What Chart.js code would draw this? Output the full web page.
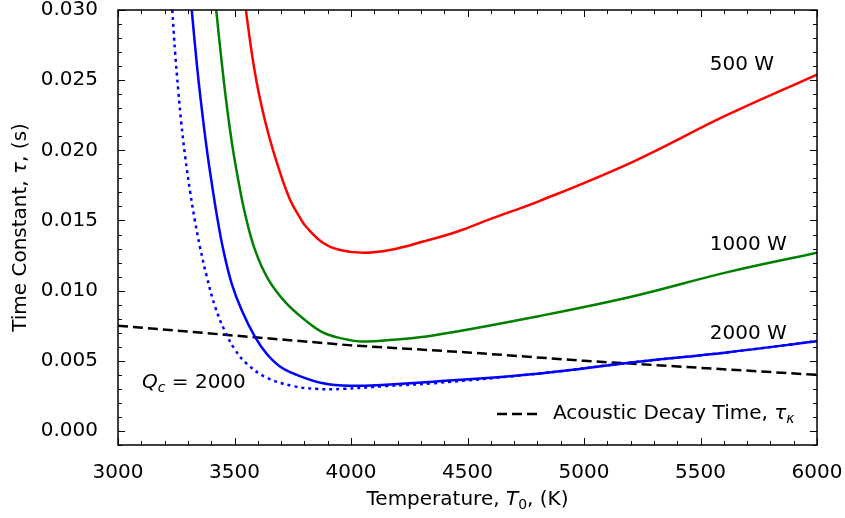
<!DOCTYPE html>
<html>
<head>
<meta charset="utf-8">
<script src="https://cdn.jsdelivr.net/npm/chart.js@4.4.1/dist/chart.umd.min.js"></script>
<style>
  html, body { margin: 0; padding: 0; background: #fff; }
  #myChart { display: block; }
</style>
</head>
<body>
<canvas id="myChart" width="845" height="518"></canvas>
<script>
// values
var T_500 = [3530, 3548, 3581, 3609, 3645, 3688, 3738, 3781, 3810, 3881, 3953, 4053, 4167, 4310, 4454, 4597, 4811, 5212, 5612, 6000];
var tau_500 = [0.0325, 0.0301, 0.0262, 0.0237, 0.0212, 0.0188, 0.0165, 0.0152, 0.0145, 0.0134, 0.0129, 0.0127, 0.0129, 0.0135, 0.0142, 0.0151, 0.0164, 0.0192, 0.0225, 0.0254];

var T_1000 = [3405, 3421, 3445, 3466, 3491, 3517, 3545, 3588, 3645, 3717, 3803, 3881, 3960, 4050, 4180, 4352, 4811, 5212, 5612, 6000];
var tau_1000 = [0.0328, 0.0301, 0.0263, 0.0233, 0.0203, 0.0178, 0.0155, 0.0129, 0.0108, 0.0092, 0.0079, 0.0070, 0.0066, 0.00637, 0.0065, 0.0068, 0.0082, 0.0096, 0.0113, 0.0127];

var T_2000 = [3302, 3316, 3338, 3355, 3381, 3402, 3424, 3452, 3488, 3531, 3588, 3638, 3695, 3767, 3880, 3996, 4150, 4352, 4811, 5212, 5612, 6000];
var tau_2000 = [0.0328, 0.0301, 0.0262, 0.0236, 0.0201, 0.0177, 0.0154, 0.0129, 0.0105, 0.0086, 0.0067, 0.0055, 0.0046, 0.0040, 0.0034, 0.00322, 0.0033, 0.0035, 0.0041, 0.0049, 0.0056, 0.0064];

var T_qc = [3222, 3233, 3245, 3259, 3272, 3288, 3310, 3330, 3352, 3381, 3416, 3459, 3502, 3552, 3638, 3752, 3850, 3966, 4150, 4352, 4811, 5212, 5612, 6000];
var tau_qc = [0.0330, 0.0300, 0.0270, 0.0242, 0.0219, 0.0196, 0.0170, 0.0150, 0.0131, 0.0110, 0.0089, 0.0071, 0.0058, 0.0048, 0.0038, 0.0032, 0.0030, 0.0030, 0.0032, 0.0034, 0.0041, 0.0049, 0.0056, 0.0064];

var T_acoustic = [3000, 3500, 4000, 4500, 5000, 5500, 6000];
var tau_acoustic = [0.0075, 0.0068, 0.0061, 0.0056, 0.0050, 0.0045, 0.0040];

var xTicks = [3000, 3500, 4000, 4500, 5000, 5500, 6000];
var yTicks = [0.000, 0.005, 0.010, 0.015, 0.020, 0.025, 0.030];

var FONT = '"DejaVu Sans", sans-serif';
var FS = 20;

function pts(xs, ys) {
    return xs.map(function (x, i) { return { x: x, y: ys[i] }; });
}

function fontFor(kind, size) {
    var italic = kind.indexOf('i') >= 0;
    var s = kind.indexOf('sub') >= 0 ? size * 0.7 : size;
    return (italic ? 'italic ' : '') + s + 'px ' + FONT;
}

// draw text made of parts like [['Time Constant, ', ''], ['τ', 'i']]
function drawRich(ctx, parts, x, y, size, align) {
    ctx.save();
    ctx.textBaseline = 'middle';
    ctx.textAlign = 'left';
    var total = 0;
    parts.forEach(function (p) {
        ctx.font = fontFor(p[1], size);
        total += ctx.measureText(p[0]).width;
    });
    var cx = align == 'center' ? x - total / 2 : x;
    parts.forEach(function (p) {
        ctx.font = fontFor(p[1], size);
        var dy = p[1].indexOf('sub') >= 0 ? size * 0.28 : 0;
        ctx.fillText(p[0], cx, y + dy);
        cx += ctx.measureText(p[0]).width;
    });
    ctx.restore();
}

var framePlugin = {
    id: 'frame',
    afterDraw: function (chart) {
        var ctx = chart.ctx;
        var a = chart.chartArea;
        var xs = chart.scales.x, ys = chart.scales.y;
        ctx.save();
        ctx.fillStyle = '#000';
        ctx.strokeStyle = '#000';

        // ticks inward on every side
        ctx.lineWidth = 1;
        ctx.beginPath();
        for (var v = 3000; v <= 6000; v += 100) {
            var px = Math.round(xs.getPixelForValue(v)) + 0.5;
            var len = (v % 500 == 0) ? 7 : 4;
            ctx.moveTo(px, a.bottom); ctx.lineTo(px, a.bottom - len);
            ctx.moveTo(px, a.top); ctx.lineTo(px, a.top + len);
        }
        for (var k = -1; k <= 30; k++) {
            var py = Math.round(ys.getPixelForValue(k / 1000)) + 0.5;
            var l2 = (k % 5 == 0) ? 7 : 4;
            ctx.moveTo(a.left, py); ctx.lineTo(a.left + l2, py);
            ctx.moveTo(a.right, py); ctx.lineTo(a.right - l2, py);
        }
        ctx.stroke();

        ctx.lineWidth = 1.5;
        ctx.strokeRect(a.left, a.top, a.right - a.left, a.bottom - a.top);

        // curve labels
        drawRich(ctx, [['500 W', '']], xs.getPixelForValue(5540), ys.getPixelForValue(0.0261), FS, 'left');
        drawRich(ctx, [['1000 W', '']], xs.getPixelForValue(5540), ys.getPixelForValue(0.0133), FS, 'left');
        drawRich(ctx, [['2000 W', '']], xs.getPixelForValue(5540), ys.getPixelForValue(0.0069), FS, 'left');
        drawRich(ctx, [['Q', 'i'], ['c', 'isub'], [' = 2000', '']],
            xs.getPixelForValue(3103), ys.getPixelForValue(0.00345), FS, 'left');

        // legend
        ctx.lineWidth = 2.5;
        ctx.setLineDash([10, 5]);
        ctx.beginPath();
        ctx.moveTo(a.right - 320, a.bottom - 31);
        ctx.lineTo(a.right - 280, a.bottom - 31);
        ctx.stroke();
        ctx.setLineDash([]);
        drawRich(ctx, [['Acoustic Decay Time, ', ''], ['τ', 'i'], ['κ', 'isub']],
            a.right - 264, a.bottom - 31, FS, 'left');

        // axis titles
        drawRich(ctx, [['Temperature, ', ''], ['T', 'i'], ['0', 'sub'], [', (K)', '']],
            (a.left + a.right) / 2, 500, FS, 'center');
        ctx.save();
        ctx.translate(21, (a.top + a.bottom) / 2);
        ctx.rotate(-Math.PI / 2);
        drawRich(ctx, [['Time Constant, ', ''], ['τ', 'i'], [', (s)', '']], 0, 0, FS, 'center');
        ctx.restore();
        ctx.restore();
    }
};

function lineSet(label, xs, ys, color, dash) {
    return {
        label: label,
        data: pts(xs, ys),
        borderColor: color,
        borderWidth: 2.5,
        borderDash: dash || [],
        pointRadius: 0,
        fill: false,
        tension: 0.4
    };
}

var datasets = [
    lineSet('500 W', T_500, tau_500, '#ff0000'),
    lineSet('1000 W', T_1000, tau_1000, '#008000'),
    lineSet('Q_c = 2000', T_qc, tau_qc, '#0000ff', [3, 4]),
    lineSet('2000 W', T_2000, tau_2000, '#0000ff'),
    lineSet('Acoustic Decay Time', T_acoustic, tau_acoustic, '#000000', [10, 5])
];
datasets[4].tension = 0;

function noPad(s) {
    s.paddingLeft = 0; s.paddingRight = 0; s.paddingTop = 0; s.paddingBottom = 0;
}

new Chart("myChart", {
    type: 'line',
    data: { datasets: datasets },
    plugins: [framePlugin],
    options: {
        responsive: false,
        animation: false,
        devicePixelRatio: 1,
        layout: { padding: { top: 10, right: 28, left: 0, bottom: 0 } },
        plugins: { legend: { display: false }, tooltip: { enabled: false } },
        scales: {
            x: {
                type: 'linear',
                min: 3000,
                max: 6000,
                afterFit: function (s) { s.height = 73; noPad(s); },
                afterBuildTicks: function (s) { s.ticks = xTicks.map(function (v) { return { value: v }; }); },
                grid: { display: false, drawTicks: false },
                border: { display: false },
                ticks: {
                    color: '#000',
                    padding: 16,
                    maxRotation: 0,
                    font: { family: FONT, size: FS },
                    callback: function (v) { return String(v); }
                }
            },
            y: {
                type: 'linear',
                min: -0.001,
                max: 0.030,
                afterFit: function (s) { s.width = 118; noPad(s); },
                afterBuildTicks: function (s) { s.ticks = yTicks.map(function (v) { return { value: v }; }); },
                grid: { display: false, drawTicks: false },
                border: { display: false },
                ticks: {
                    color: '#000',
                    padding: 20,
                    font: { family: FONT, size: FS },
                    callback: function (v) { return v.toFixed(3); }
                }
            }
        }
    }
});
</script>
</body>
</html>
